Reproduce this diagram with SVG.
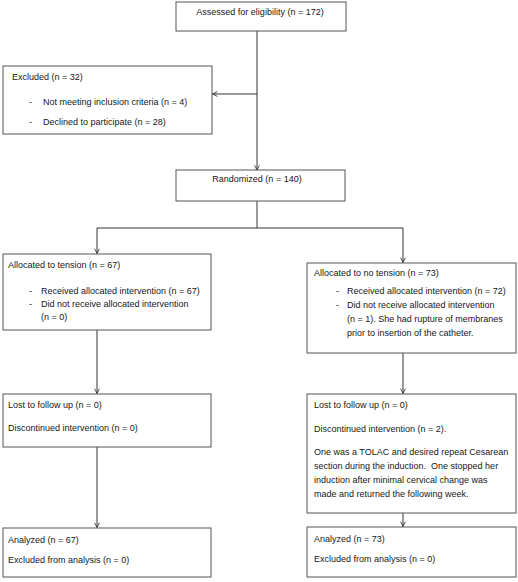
<svg xmlns="http://www.w3.org/2000/svg" width="518" height="582" viewBox="0 0 518 582">
<defs>
<marker id="arr" viewBox="0 0 10 10" refX="9" refY="5" markerWidth="6" markerHeight="6" orient="auto" markerUnits="userSpaceOnUse">
<path d="M1,1 L9,5 L1,9" fill="none" stroke="#222" stroke-width="1.3"/>
</marker>
</defs>
<style>
.box{fill:#fff;stroke:#555;stroke-width:1}
.t{font-family:"Liberation Sans",Arial,sans-serif;font-size:9px;fill:#161616}
.ln{fill:none;stroke:#333;stroke-width:1}
</style>
<rect width="518" height="582" fill="#fff"/>
<g id="connectors">
<path class="ln" d="M257,31 V170" marker-end="url(#arr)"/>
<path class="ln" d="M257,94 H212.5" marker-end="url(#arr)"/>
<path class="ln" d="M257,201 V228"/>
<path class="ln" d="M97,228 H403"/>
<path class="ln" d="M97,228 V253.5" marker-end="url(#arr)"/>
<path class="ln" d="M403,228 V262.5" marker-end="url(#arr)"/>
<path class="ln" d="M97,330 V393.5" marker-end="url(#arr)"/>
<path class="ln" d="M403,353 V393.5" marker-end="url(#arr)"/>
<path class="ln" d="M97,447 V527.5" marker-end="url(#arr)"/>
<path class="ln" d="M403,513 V526.5" marker-end="url(#arr)"/>
</g>
<g id="assessed">
<rect class="box" x="176" y="2" width="170" height="29"/>
<text class="t" x="260" y="15" text-anchor="middle">Assessed for eligibility (n = 172)</text>
</g>
<g id="excluded">
<rect class="box" x="3" y="66" width="209" height="68"/>
<text class="t" x="12" y="80">Excluded (n = 32)</text>
<text class="t" x="29" y="105">-</text>
<text class="t" x="43" y="105">Not meeting inclusion criteria (n = 4)</text>
<text class="t" x="29" y="125">-</text>
<text class="t" x="43" y="125">Declined to participate (n = 28)</text>
</g>
<g id="randomized">
<rect class="box" x="176" y="170" width="169" height="31"/>
<text class="t" x="257" y="182" text-anchor="middle">Randomized (n = 140)</text>
</g>
<g id="alloc-tension">
<rect class="box" x="3" y="254" width="208" height="76"/>
<text class="t" x="8" y="268">Allocated to tension (n = 67)</text>
<text class="t" x="29" y="294">-</text>
<text class="t" x="41" y="294">Received allocated intervention (n = 67)</text>
<text class="t" x="29" y="307">-</text>
<text class="t" x="41" y="307">Did not receive allocated intervention</text>
<text class="t" x="41" y="320">(n = 0)</text>
</g>
<g id="alloc-notension">
<rect class="box" x="307" y="263" width="209" height="90"/>
<text class="t" x="314" y="276">Allocated to no tension (n = 73)</text>
<text class="t" x="336" y="294">-</text>
<text class="t" x="347" y="294">Received allocated intervention (n = 72)</text>
<text class="t" x="336" y="308">-</text>
<text class="t" x="347" y="308">Did not receive allocated intervention</text>
<text class="t" x="347" y="322">(n = 1). She had rupture of membranes</text>
<text class="t" x="347" y="336">prior to insertion of the catheter.</text>
</g>
<g id="lost-tension">
<rect class="box" x="3" y="394" width="208" height="53"/>
<text class="t" x="8" y="408">Lost to follow up (n = 0)</text>
<text class="t" x="8" y="431">Discontinued intervention (n = 0)</text>
</g>
<g id="lost-notension">
<rect class="box" x="307" y="394" width="209" height="119"/>
<text class="t" x="314" y="408">Lost to follow up (n = 0)</text>
<text class="t" x="314" y="432">Discontinued intervention (n = 2).</text>
<text class="t" x="314" y="455">One was a TOLAC and desired repeat Cesarean</text>
<text class="t" x="314" y="469" xml:space="preserve" style="white-space:pre">section during the induction.  One stopped her</text>
<text class="t" x="314" y="483">induction after minimal cervical change was</text>
<text class="t" x="314" y="497">made and returned the following week.</text>
</g>
<g id="analyzed-tension">
<rect class="box" x="3" y="528" width="208" height="49"/>
<text class="t" x="8" y="543">Analyzed (n = 67)</text>
<text class="t" x="8" y="563">Excluded from analysis (n = 0)</text>
</g>
<g id="analyzed-notension">
<rect class="box" x="307" y="527" width="209" height="50"/>
<text class="t" x="314" y="542">Analyzed (n = 73)</text>
<text class="t" x="314" y="562">Excluded from analysis (n = 0)</text>
</g>
</svg>
